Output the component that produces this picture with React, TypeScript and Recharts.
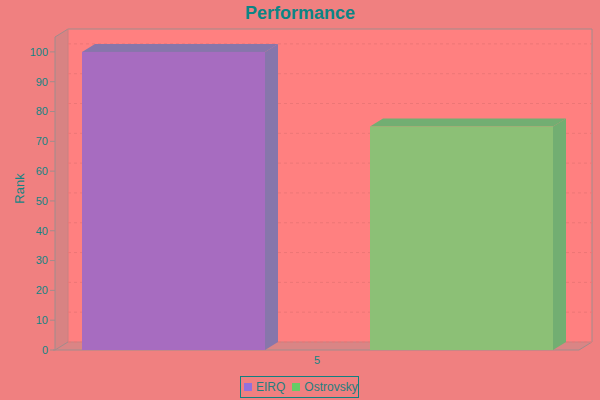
import React from 'react';
import { BarChart, Bar, XAxis, YAxis, ReferenceArea, ReferenceLine } from 'recharts';

const categories = ['5'];
const seriesNames = ['EIRQ', 'Ostrovsky'];
const eirqValues = [100];
const ostrovskyValues = [75];
const yTicks = [0, 10, 20, 30, 40, 50, 60, 70, 80, 90, 100];
const yMax = 105;

const frontColors = ['#A76CC0', '#8CC076'];
const sideColors = ['#8776AB', '#72AE72'];
const legendColors = ['#9370DB', '#66CC66'];

const DX = 13;
const DY = 8;
const TEAL = '#128484';

const data = categories.map((c, i) => ({
  name: c,
  EIRQ: eirqValues[i],
  Ostrovsky: ostrovskyValues[i],
}));

const makeBarShape = (idx: number) => (props: any) => {
  const { x, y, width, height } = props;
  if (width == null || height == null) return <g />;
  const f = frontColors[idx];
  const s = sideColors[idx];
  return (
    <g>
      <polygon
        points={`${x},${y} ${x + DX},${y - DY} ${x + width + DX},${y - DY} ${x + width},${y}`}
        fill={s}
      />
      <polygon
        points={`${x + width},${y} ${x + width + DX},${y - DY} ${x + width + DX},${y + height - DY} ${x + width},${y + height}`}
        fill={s}
      />
      <rect x={x} y={y} width={width} height={height} fill={f} />
    </g>
  );
};

const WallShape = (props: any) => {
  const { x, y, width, height } = props;
  const r = x + width;
  const b = y + height;
  return (
    <g>
      <rect x={x + DX} y={y - DY} width={width} height={height} fill="#FF8080" />
      <polygon
        points={`${x},${y} ${x + DX},${y - DY} ${x + DX},${b - DY} ${x},${b}`}
        fill="#D88383"
      />
      <polygon
        points={`${x},${b} ${x + DX},${b - DY} ${r + DX},${b - DY} ${r},${b}`}
        fill="#DA8585"
      />
      <polyline
        points={`${x},${y} ${x + DX},${y - DY} ${r + DX},${y - DY} ${r + DX},${b - DY} ${r},${b}`}
        fill="none"
        stroke="#A08C8C"
        strokeWidth={1}
      />
      <line x1={x + DX} y1={y - DY} x2={x + DX} y2={b - DY} stroke="#C88080" strokeWidth={1} />
      <line x1={x} y1={b} x2={x + DX} y2={b - DY} stroke="#A08C8C" strokeWidth={1} />
      <line x1={x + DX} y1={b - DY} x2={r + DX} y2={b - DY} stroke="#C88080" strokeWidth={1} />
      <line x1={x - 2} y1={b} x2={r} y2={b} stroke="#A08C8C" strokeWidth={1} />
    </g>
  );
};

const GridShape = (props: any) => {
  const { x1, y1, x2, y2 } = props;
  if (x1 == null) return <g />;
  return (
    <line
      x1={x1 + DX}
      y1={y1 - DY}
      x2={x2 + DX}
      y2={y2 - DY}
      stroke="#EC7676"
      strokeWidth={1}
      strokeDasharray="3 3"
    />
  );
};

const RankLabel = (props: any) => {
  const vb = props.viewBox || {};
  const cy = (vb.y ?? 37) + (vb.height ?? 313) / 2 - 5;
  return (
    <text
      x={19}
      y={cy}
      transform={`rotate(-90, 19, ${cy})`}
      textAnchor="middle"
      dominantBaseline="central"
      fill={TEAL}
      fontSize={13}
      fontFamily="'Liberation Sans', Arial, sans-serif"
    >
      Rank
    </text>
  );
};

export default function App() {
  return (
    <div
      style={{
        position: 'absolute',
        left: 0,
        top: 0,
        width: 600,
        height: 400,
        background: '#F08080',
        fontFamily: "'Liberation Sans', Arial, sans-serif",
        overflow: 'hidden',
      }}
    >
      <div
        style={{
          position: 'absolute',
          left: 0,
          top: 2,
          width: 600,
          textAlign: 'center',
          fontSize: 18,
          fontWeight: 'bold',
          color: '#0B8585',
          lineHeight: '22px',
        }}
      >
        Performance
      </div>
      <BarChart
        width={600}
        height={400}
        data={data}
        margin={{ top: 37, right: 21, bottom: 30, left: 0 }}
        barCategoryGap={27}
        barGap={105}
      >
        <ReferenceArea y1={0} y2={yMax} shape={WallShape} ifOverflow="visible" zIndex={-300} />
        {yTicks.map((t) => (
          <ReferenceLine key={t} y={t} shape={GridShape} zIndex={-250} />
        ))}
        <XAxis
          dataKey="name"
          axisLine={false}
          tickLine={false}
          tickSize={4}
          height={20}
          tick={{ fill: TEAL, fontSize: 11 }}
        />
        <YAxis
          width={55}
          domain={[0, yMax]}
          ticks={yTicks}
          interval={0}
          axisLine={{ stroke: '#A08C8C' }}
          tickLine={{ stroke: '#A08C8C' }}
          tickSize={5}
          tick={{ fill: TEAL, fontSize: 11 }}
          label={<RankLabel />}
        />
        <Bar dataKey="EIRQ" isAnimationActive={false} shape={makeBarShape(0)} />
        <Bar dataKey="Ostrovsky" isAnimationActive={false} shape={makeBarShape(1)} />
      </BarChart>
      <div
        style={{
          position: 'absolute',
          left: 240,
          top: 376,
          width: 117,
          height: 20,
          border: '1px solid #118080',
          display: 'flex',
          alignItems: 'center',
          fontSize: 12,
          color: '#1F7F7F',
        }}
      >
        {seriesNames.map((n, i) => (
          <div key={n} style={{ display: 'flex', alignItems: 'center', marginLeft: i === 0 ? 3 : 7 }}>
            <div style={{ width: 8, height: 8, background: legendColors[i], marginRight: 4 }} />
            <span>{n}</span>
          </div>
        ))}
      </div>
    </div>
  );
}
